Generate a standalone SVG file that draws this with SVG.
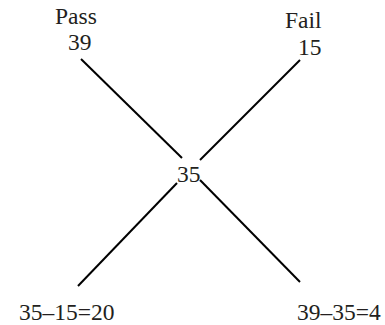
<svg xmlns="http://www.w3.org/2000/svg" width="385" height="325" viewBox="0 0 385 325">
<style>
text{font-family:"Liberation Serif","Times New Roman",serif;font-size:23.5px;fill:#231f20}
.c line{stroke:#000;stroke-width:2;stroke-linecap:butt}
</style>
<rect width="385" height="325" fill="#fff"/>
<g class="c" id="connectors">
<line x1="81" y1="59" x2="182" y2="158"/>
<line x1="300" y1="60" x2="200" y2="160"/>
<line x1="177" y1="183" x2="78" y2="286"/>
<line x1="200" y1="180" x2="300" y2="282"/>
</g>
<g id="pass"><text x="55" y="24">Pass</text><text x="68" y="50">39</text></g>
<g id="fail"><text x="285" y="28">Fail</text><text x="298" y="55">15</text></g>
<g id="center"><text x="177" y="182">35</text></g>
<g id="left"><text x="19" y="320">35–15=20</text></g>
<g id="right"><text x="297" y="320">39–35=4</text></g>
</svg>
